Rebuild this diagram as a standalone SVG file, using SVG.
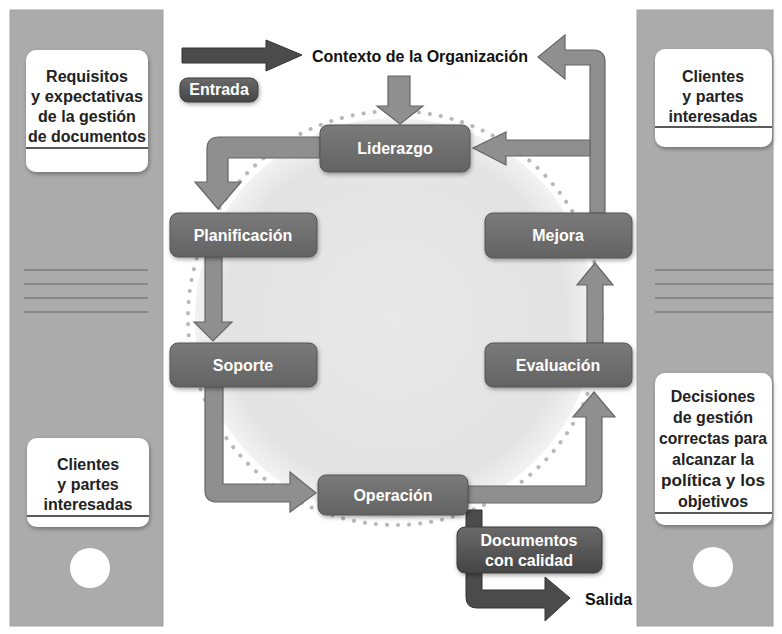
<svg xmlns="http://www.w3.org/2000/svg" width="782" height="634" viewBox="0 0 782 634">
<defs>
<radialGradient id="bg" cx="0.5" cy="0.5" r="0.5">
<stop offset="0" stop-color="#e9e9e9"/>
<stop offset="0.85" stop-color="#e3e3e3"/>
<stop offset="1" stop-color="#f2f2f2"/>
</radialGradient>
<linearGradient id="node" x1="0" y1="0" x2="0" y2="1">
<stop offset="0" stop-color="#7a7a7a"/>
<stop offset="1" stop-color="#636363"/>
</linearGradient>
<linearGradient id="dark" x1="0" y1="0" x2="0" y2="1">
<stop offset="0" stop-color="#6a6a6a"/>
<stop offset="1" stop-color="#454545"/>
</linearGradient>
<filter id="sh" x="-20%" y="-20%" width="140%" height="150%">
<feDropShadow dx="1" dy="2" stdDeviation="2" flood-color="#000" flood-opacity="0.35"/>
</filter>
</defs>
<style>
.panel{fill:#ababab;stroke:#a0a0a0;stroke-width:1}
.pline{stroke:#7c7c7c;stroke-width:1.3}
.card{fill:#ffffff;filter:url(#sh)}
.uline{stroke:#222;stroke-width:1.5}
.ct{font-family:"Liberation Sans",Arial,sans-serif;font-weight:bold;font-size:16px;fill:#222;text-anchor:middle}
.nd{fill:url(#node);stroke:#555;stroke-width:1;filter:url(#sh)}
.ndd{fill:url(#dark);stroke:#3c3c3c;stroke-width:1;filter:url(#sh)}
.nt{font-family:"Liberation Sans",Arial,sans-serif;font-weight:bold;font-size:16px;fill:#ffffff;text-anchor:middle}
.ar{fill:#8f8f8f;stroke:#666;stroke-width:1.2}
.ard{fill:#4b4b4b;stroke:#333;stroke-width:1}
.lbl{font-family:"Liberation Sans",Arial,sans-serif;font-weight:bold;font-size:16px;fill:#111}
.hole{fill:#ffffff}
</style>
<rect width="782" height="634" fill="#ffffff"/>

<g id="left-panel">
<rect class="panel" x="10" y="10" width="153" height="616"/>
<line class="pline" x1="24" y1="270" x2="148" y2="270"/>
<line class="pline" x1="24" y1="284" x2="148" y2="284"/>
<line class="pline" x1="24" y1="298" x2="148" y2="298"/>
<line class="pline" x1="24" y1="312" x2="148" y2="312"/>
<circle class="hole" cx="90" cy="568" r="20"/>
</g>
<g id="right-panel">
<rect class="panel" x="637" y="10" width="136" height="616"/>
<line class="pline" x1="655" y1="270" x2="773" y2="270"/>
<line class="pline" x1="655" y1="284" x2="773" y2="284"/>
<line class="pline" x1="655" y1="298" x2="773" y2="298"/>
<line class="pline" x1="655" y1="312" x2="773" y2="312"/>
<circle class="hole" cx="713" cy="567" r="20"/>
</g>

<g id="card-requisitos">
<rect class="card" x="26" y="50" width="122" height="122" rx="10"/>
<text class="ct" x="87" y="82">Requisitos</text>
<text class="ct" x="87" y="102" textLength="112" lengthAdjust="spacingAndGlyphs">y expectativas</text>
<text class="ct" x="87" y="122">de la gestión</text>
<text class="ct" x="87" y="142" textLength="118" lengthAdjust="spacingAndGlyphs">de documentos</text>
<line class="uline" x1="26" y1="148" x2="148" y2="148"/>
</g>
<g id="card-clientes-left">
<rect class="card" x="27" y="438" width="122" height="89" rx="10"/>
<text class="ct" x="88" y="470">Clientes</text>
<text class="ct" x="88" y="490">y partes</text>
<text class="ct" x="88" y="510">interesadas</text>
<line class="uline" x1="27" y1="516" x2="149" y2="516"/>
</g>
<g id="card-clientes-right">
<rect class="card" x="655" y="49" width="117" height="98" rx="10"/>
<text class="ct" x="713" y="82">Clientes</text>
<text class="ct" x="713" y="102">y partes</text>
<text class="ct" x="713" y="122">interesadas</text>
<line class="uline" x1="655" y1="127" x2="772" y2="127"/>
</g>
<g id="card-decisiones">
<rect class="card" x="655" y="373" width="117" height="152" rx="10"/>
<text class="ct" x="713" y="402">Decisiones</text>
<text class="ct" x="713" y="423">de gestión</text>
<text class="ct" x="713" y="444" textLength="108" lengthAdjust="spacingAndGlyphs">correctas para</text>
<text class="ct" x="713" y="465">alcanzar la</text>
<text class="ct" x="713" y="486" textLength="104" lengthAdjust="spacingAndGlyphs">política y los</text>
<text class="ct" x="713" y="507">objetivos</text>
<line class="uline" x1="655" y1="513" x2="772" y2="513"/>
</g>

<g id="cycle-bg">
<circle cx="395" cy="318" r="200" fill="url(#bg)"/>
<circle cx="395" cy="318" r="207" fill="none" stroke="#b8b8b8" stroke-width="4" stroke-linecap="round" stroke-dasharray="0.1 11"/>
</g>

<g id="connectors">
<path class="ard" d="M182,48 H266 V40 L302,55 L266,71 V63 H182 Z"/>
<path class="ar" d="M388,76 V106 H377 L400,124 L423,106 H410 V76 Z"/>
<path class="ar" d="M605,213 V62 Q605,50 593,50 H565 V35 L538,57 L565,79 V65 H590 V213 Z"/>
<path class="ar" d="M590,140 H506 V132 L473,148 L506,165 V156 H590 Z"/>
<path class="ar" d="M320,137 H219 Q207,137 207,149 V182 H195 L218,209 L241,182 H228 V158 H320 Z"/>
<path class="ar" d="M205,257 V322 H194 L213,341 L232,322 H222 V257 Z"/>
<path class="ar" d="M205,387 V490 Q205,502 217,502 H290 V512 L316,493 L290,472 V484 H223 V387 Z"/>
<path class="ar" d="M468,486 H586 V417 H573 L594,392 L615,417 H602 V491 Q602,503 590,503 H468 Z"/>
<path class="ar" d="M587,343 V285 H577 L595,263 L613,285 H603 V343 Z"/>
<path class="ard" d="M466,510 H482 V528 H466 Z"/>
<path class="ard" d="M466,573 V597 Q466,608 477,608 H545 V621 L570,598 L545,577 V590 H482 V573 Z"/>
</g>

<g id="contexto">
<text class="lbl" x="420" y="62" text-anchor="middle" textLength="216" lengthAdjust="spacingAndGlyphs">Contexto de la Organización</text>
</g>
<g id="entrada">
<rect class="ndd" x="180" y="78" width="78" height="24" rx="8"/>
<text class="nt" x="219" y="95" font-size="14">Entrada</text>
</g>
<g id="liderazgo">
<rect class="nd" x="320" y="125" width="150" height="47" rx="8"/>
<text class="nt" x="395" y="154">Liderazgo</text>
</g>
<g id="planificacion">
<rect class="nd" x="170" y="213" width="147" height="44" rx="8"/>
<text class="nt" x="243" y="241">Planificación</text>
</g>
<g id="soporte">
<rect class="nd" x="170" y="343" width="147" height="44" rx="8"/>
<text class="nt" x="243" y="371">Soporte</text>
</g>
<g id="mejora">
<rect class="nd" x="485" y="213" width="147" height="45" rx="8"/>
<text class="nt" x="558" y="241">Mejora</text>
</g>
<g id="evaluacion">
<rect class="nd" x="485" y="343" width="147" height="44" rx="8"/>
<text class="nt" x="558" y="371">Evaluación</text>
</g>
<g id="operacion">
<rect class="nd" x="318" y="475" width="150" height="40" rx="8"/>
<text class="nt" x="393" y="501">Operación</text>
</g>
<g id="documentos">
<rect class="ndd" x="457" y="527" width="145" height="46" rx="8"/>
<text class="nt" x="529" y="546">Documentos</text>
<text class="nt" x="529" y="566">con calidad</text>
</g>
<g id="salida">
<text class="lbl" x="585" y="605" font-size="17">Salida</text>
</g>
</svg>
